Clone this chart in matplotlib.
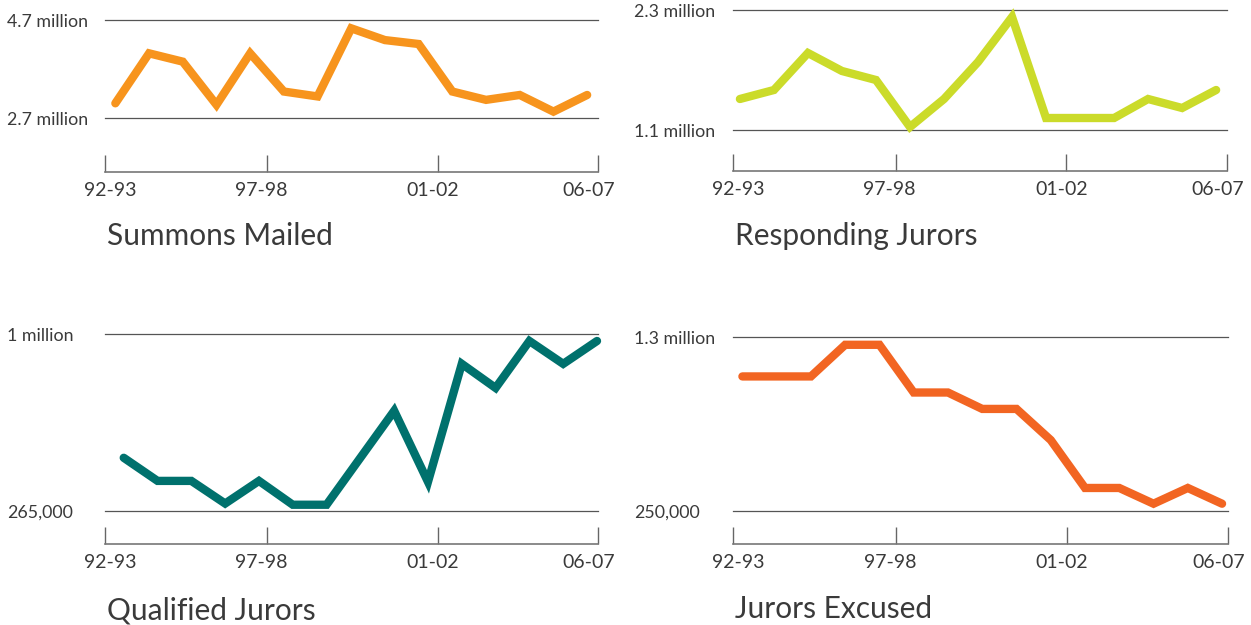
import matplotlib.pyplot as plt
from matplotlib.transforms import blended_transform_factory, offset_copy, ScaledTranslation

seasons = ['92-93', '93-94', '94-95', '95-96', '96-97', '97-98', '98-99', '99-00',
           '00-01', '01-02', '02-03', '03-04', '04-05', '05-06', '06-07']
tick_labels = ['92-93', '97-98', '01-02', '06-07']

summons = [3.00, 4.02, 3.85, 2.97, 4.02, 3.24, 3.14, 4.53, 4.29, 4.21, 3.24, 3.07, 3.17, 2.83, 3.17]
responding = [1.41, 1.50, 1.87, 1.69, 1.60, 1.13, 1.41, 1.78, 2.23, 1.22, 1.22, 1.22, 1.41, 1.32, 1.50]
qualified = [486000, 390000, 390000, 296000, 390000, 291000, 291000, 486000, 681000, 386000,
             876000, 776000, 971000, 876000, 971000]
excused = [1062000, 1062000, 1062000, 1253000, 1253000, 965000, 965000, 866000, 866000, 678000,
           389000, 389000, 294000, 389000, 294000]

W, H = 1251, 625
fig = plt.figure(figsize=(W / 100, H / 100), dpi=100)

FONT = 'Lato'
TXT = '#3a3a3a'

# layout in pixels: left, right, top grid, bottom grid, x-axis line, label x, title x, title baseline,
# first/last point as fraction of the axis width
panels = [
    dict(y=summons, lo=2.7, hi=4.7, lo_lab='2.7 million', hi_lab='4.7 million', color='#f7941d',
         title='Summons Mailed', box=(105, 598, 20, 118, 172), lab_x=7, title_xy=(107, 245), f=(0.021, 0.978)),
    dict(y=responding, lo=1.1, hi=2.3, lo_lab='1.1 million', hi_lab='2.3 million', color='#cbdb2a',
         title='Responding Jurors', box=(733, 1227, 10, 130, 171), lab_x=634, title_xy=(735, 245), f=(0.014, 0.978)),
    dict(y=qualified, lo=265000, hi=1000000, lo_lab='265,000', hi_lab='1 million', color='#00716d',
         title='Qualified Jurors', box=(105, 598, 334, 511, 544), lab_x=7, title_xy=(107, 619), f=(0.038, 0.998)),
    dict(y=excused, lo=250000, hi=1300000, lo_lab='250,000', hi_lab='1.3 million', color='#f26522',
         title='Jurors Excused', box=(733, 1228, 337, 511, 544), lab_x=634, title_xy=(735, 618), f=(0.019, 0.988)),
]
tick_frac = [0.0, 0.329, 0.675, 1.0]
label_shift = [5, -6, -5, -9]  # pixels, labels sit a little off their ticks

for p in panels:
    left, right, top, bot, axis_y = p['box']
    ax = fig.add_axes([left / W, 1 - axis_y / H, (right - left) / W, (axis_y - top) / H])
    span = p['hi'] - p['lo']
    ymin = p['lo'] - (axis_y - bot) / (bot - top) * span
    ax.set_ylim(ymin, p['hi'])
    f0, f1 = p['f']
    width = (len(seasons) - 1) / (f1 - f0)
    x0 = -f0 * width
    ax.set_xlim(x0, x0 + width)

    ax.axhline(p['hi'], color='#555555', lw=0.9, clip_on=False, zorder=1)
    ax.axhline(p['lo'], color='#555555', lw=0.9, clip_on=False, zorder=1)
    ax.plot(range(len(seasons)), p['y'], color=p['color'], lw=6, solid_joinstyle='miter',
            solid_capstyle='round', clip_on=False, zorder=3)

    for s in ['top', 'left', 'right']:
        ax.spines[s].set_visible(False)
    ax.spines['bottom'].set_color('#777777')
    ax.spines['bottom'].set_linewidth(1.2)
    ax.set_xticks([x0 + t * width for t in tick_frac])
    ax.set_xticklabels(tick_labels, fontsize=14, family=FONT, color=TXT)
    ax.tick_params(axis='x', direction='in', length=12.5, width=1.0, color='#666666', pad=7)
    for lab, dx in zip(ax.get_xticklabels(), label_shift):
        lab.set_transform(lab.get_transform() + ScaledTranslation(dx / 100, 0, fig.dpi_scale_trans))
    ax.set_yticks([])
    ax.patch.set_alpha(0)

    tr = blended_transform_factory(fig.transFigure, ax.transData)
    tr = offset_copy(tr, fig=fig, y=-2, units='dots')
    ax.text(p['lab_x'] / W, p['hi'], p['hi_lab'], transform=tr, ha='left', va='center',
            fontsize=12.8, family=FONT, color=TXT)
    ax.text(p['lab_x'] / W, p['lo'], p['lo_lab'], transform=tr, ha='left', va='center',
            fontsize=12.8, family=FONT, color=TXT)

    tx, ty = p['title_xy']
    fig.text(tx / W, 1 - ty / H, p['title'], ha='left', va='baseline', fontsize=21.5,
             family=FONT, color=TXT)

fig.savefig('out.png', dpi=100)
